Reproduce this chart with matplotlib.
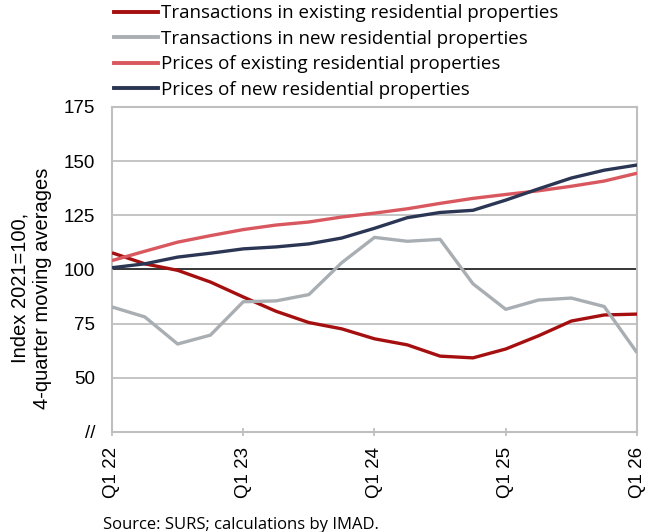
import matplotlib.pyplot as plt
from matplotlib.lines import Line2D

quarters = ["Q1 22", "Q2 22", "Q3 22", "Q4 22",
            "Q1 23", "Q2 23", "Q3 23", "Q4 23",
            "Q1 24", "Q2 24", "Q3 24", "Q4 24",
            "Q1 25", "Q2 25", "Q3 25", "Q4 25",
            "Q1 26"]

trans_existing = [107.7, 102.6, 99.6, 94.2, 87.3, 80.7, 75.5, 72.6, 68.0,
                  65.2, 60.0, 59.2, 63.3, 69.4, 76.2, 79.0, 79.4]
trans_new = [82.7, 78.1, 65.6, 69.7, 85.1, 85.5, 88.4, 103.1, 114.8,
             113.0, 113.9, 93.4, 81.6, 85.9, 86.8, 82.9, 61.6]
prices_existing = [104.1, 108.4, 112.6, 115.6, 118.4, 120.5, 121.9, 124.2,
                   126.0, 128.0, 130.5, 132.8, 134.6, 136.3, 138.4, 140.8, 144.4]
prices_new = [100.8, 102.6, 105.7, 107.5, 109.5, 110.4, 111.8, 114.5, 119.0,
              123.9, 126.3, 127.3, 132.0, 137.2, 142.2, 145.8, 148.2]

labels = ["Transactions in existing residential properties",
          "Transactions in new residential properties",
          "Prices of existing residential properties",
          "Prices of new residential properties"]
colors = ["#A50F0F", "#A9AEB3", "#D9585F", "#2B3654"]

grid_c = "#BFBFBF"
tick_font = "Liberation Sans"
text_font = "Open Sans"

fig = plt.figure(figsize=(6.5, 5.32), dpi=100)
ax = fig.add_axes([0.1723, 0.188, 0.8077, 0.611])

x = list(range(len(quarters)))
series = [trans_existing, trans_new, prices_existing, prices_new]
for s, c in zip(series, colors):
    ax.plot(x, s, color=c, lw=2.4, solid_capstyle="butt", zorder=3)

ax.axhline(100, color="#262626", lw=1.3, zorder=2)

ax.set_xlim(0, len(quarters) - 1)
ax.set_ylim(25, 175)
yt = [25, 50, 75, 100, 125, 150, 175]
ax.set_yticks(yt)
ax.set_yticklabels(["//"] + [str(v) for v in yt[1:]], fontfamily=tick_font, fontsize=13.5)
for v in yt:
    if v != 100:
        ax.axhline(v, color=grid_c, lw=1.3, zorder=1)
ax.tick_params(axis="y", length=0, pad=12)

ax.set_xticks(x[::4])
ax.set_xticklabels(quarters[::4], rotation=90, fontfamily=tick_font, fontsize=13.5)
ax.tick_params(axis="x", direction="inout", length=6, width=1.3, color=grid_c, pad=8)

for sp in ax.spines.values():
    sp.set_color(grid_c)
    sp.set_linewidth(1.5)

ax.set_ylabel("Index 2021=100,\n4-quarter moving averages",
              fontfamily=tick_font, fontsize=14.5, linespacing=1.25)
ax.yaxis.set_label_coords(-0.114, 0.443)

handles = [Line2D([0], [0], color=c, lw=2.8) for c in colors]
fig.legend(handles, labels, loc="upper left", bbox_to_anchor=(0.164, 1.006),
           frameon=False, handlelength=2.35, handletextpad=0.15,
           labelspacing=0.4, borderaxespad=0,
           prop={"family": text_font, "size": 13.5})

fig.text(0.158, 0.006, "Source: SURS; calculations by IMAD.",
         fontfamily=text_font, fontsize=12)

fig.savefig("out.png", dpi=100)
